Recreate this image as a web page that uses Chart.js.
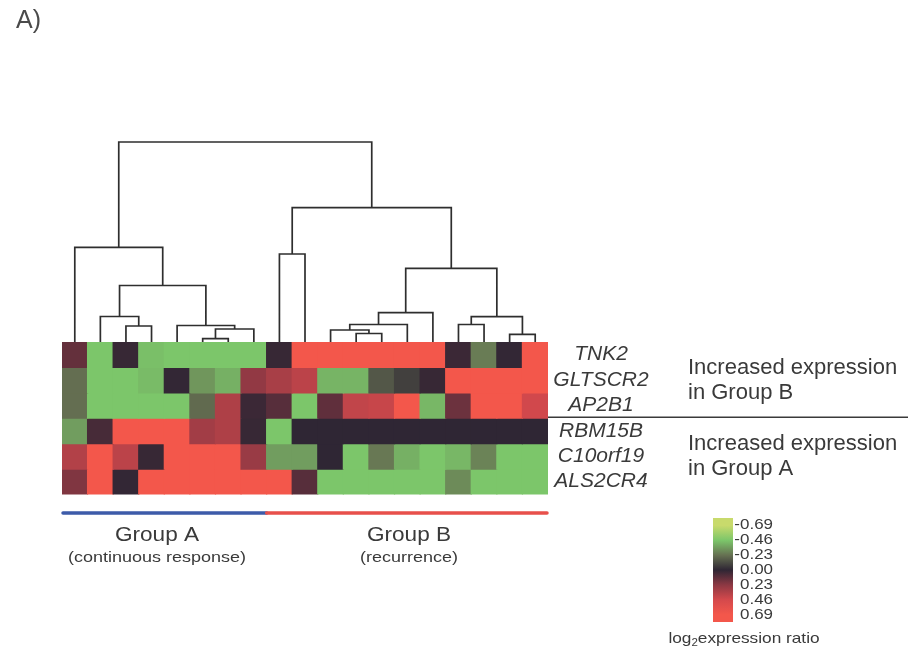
<!DOCTYPE html>
<html>
<head>
<meta charset="utf-8">
<script src="https://cdn.jsdelivr.net/npm/chart.js@4.4.1/dist/chart.umd.min.js"></script>
<style>
  html, body { margin: 0; padding: 0; background: #ffffff; }
  canvas { display: block; }
</style>
</head>
<body>
<canvas id="heat" width="920" height="651"></canvas>
<script>
// ---- data -------------------------------------------------------------
const genes = ['TNK2', 'GLTSCR2', 'AP2B1', 'RBM15B', 'C10orf19', 'ALS2CR4'];
const geneBlockSizes = [3, 3];
const geneBlockNotes = [['Increased expression', 'in Group B'], ['Increased expression', 'in Group A']];
const groupNames = ['Group A', 'Group B'];
const groupNotes = ['(continuous response)', '(recurrence)'];
const groupSizes = [8, 11];

// log2 expression ratio, samples in dendrogram leaf order
const valuesTNK2     = [0.13, -0.46, 0.02, -0.44, -0.46, -0.46, -0.46, -0.46, 0.02, 0.69, 0.69, 0.69, 0.69, 0.69, 0.69, 0.03, -0.26, 0.01, 0.69];
const valuesGLTSCR2  = [-0.22, -0.46, -0.46, -0.43, 0.01, -0.33, -0.40, 0.25, 0.32, 0.38, -0.41, -0.41, -0.15, -0.08, 0.02, 0.69, 0.69, 0.69, 0.69];
const valuesAP2B1    = [-0.22, -0.46, -0.46, -0.46, -0.46, -0.21, 0.34, 0.03, 0.10, -0.46, 0.12, 0.40, 0.42, 0.69, -0.42, 0.15, 0.69, 0.69, 0.45];
const valuesRBM15B   = [-0.35, 0.06, 0.69, 0.69, 0.69, 0.30, 0.34, 0.02, -0.46, 0.00, 0.00, 0.00, 0.00, 0.00, 0.00, 0.00, 0.00, 0.00, 0.00];
const valuesC10orf19 = [0.35, 0.69, 0.38, 0.02, 0.69, 0.69, 0.69, 0.27, -0.35, -0.35, 0.00, -0.46, -0.25, -0.40, -0.46, -0.42, -0.28, -0.46, -0.46];
const valuesALS2CR4  = [0.20, 0.69, 0.01, 0.69, 0.69, 0.69, 0.69, 0.69, 0.69, 0.10, -0.46, -0.46, -0.46, -0.46, -0.46, -0.30, -0.46, -0.46, -0.46];

// colour key ticks
const keyTicks = [-0.69, -0.46, -0.23, 0.00, 0.23, 0.46, 0.69];

// sample clustering: [left, right, height]; leaves 0..18, merge k creates node 19 + k
const merges = [
  [5, 6, 0.033],
  [17, 18, 0.077],
  [11, 12, 0.085],
  [10, 21, 0.12],
  [19, 7, 0.13],
  [2, 3, 0.16],
  [4, 23, 0.165],
  [22, 13, 0.175],
  [15, 16, 0.175],
  [27, 20, 0.253],
  [1, 24, 0.255],
  [26, 14, 0.293],
  [29, 25, 0.565],
  [30, 28, 0.737],
  [8, 9, 0.88],
  [0, 31, 0.947],
  [33, 32, 1.343],
  [34, 35, 2.0]
];

// ---- styling ------------------------------------------------------------
const keyColours = ['#c8da6c', '#7cc66a', '#667152', '#2f2634', '#8c3843', '#d4494c', '#f3574b'];
const FONT = '"Liberation Sans", Arial, Helvetica, sans-serif';
const TEXT = '#3a3a3a';

const matrix = [valuesTNK2, valuesGLTSCR2, valuesAP2B1, valuesRBM15B, valuesC10orf19, valuesALS2CR4];
const nSamples = valuesTNK2.length;

function hexToRgb(h) {
  const n = parseInt(h.slice(1), 16);
  return [(n >> 16) & 255, (n >> 8) & 255, n & 255];
}
const keyRgb = keyColours.map(hexToRgb);
function colourFor(v) {
  if (v <= keyTicks[0]) return keyColours[0];
  if (v >= keyTicks[keyTicks.length - 1]) return keyColours[keyColours.length - 1];
  for (let i = 0; i < keyTicks.length - 1; i++) {
    if (v <= keyTicks[i + 1]) {
      const t = (v - keyTicks[i]) / (keyTicks[i + 1] - keyTicks[i]);
      const a = keyRgb[i], b = keyRgb[i + 1];
      const c = a.map((x, k) => Math.round(x + (b[k] - x) * t));
      return `rgb(${c[0]},${c[1]},${c[2]})`;
    }
  }
}

// heatmap cells as floating bars, one dataset per gene
const heatDatasets = matrix.map((row, r) => ({
  type: 'bar',
  label: genes[r],
  xAxisID: 'x',
  yAxisID: 'yHeat',
  data: row.map((v, i) => ({ x: i + 0.5, y: [r, r + 1] })),
  backgroundColor: row.map(colourFor),
  borderWidth: 0,
  grouped: false,
  barPercentage: 1,
  categoryPercentage: 1,
  inflateAmount: 0.6,
  order: 2
}));

// dendrogram as elbow connectors
const nodeX = [], nodeH = [];
for (let i = 0; i < nSamples; i++) { nodeX.push(i + 0.5); nodeH.push(0); }
const treePoints = [];
merges.forEach(([a, b, h]) => {
  const xa = nodeX[a], xb = nodeX[b];
  treePoints.push({ x: xa, y: nodeH[a] }, { x: xa, y: h }, { x: xb, y: h }, { x: xb, y: nodeH[b] }, { x: xb, y: null });
  nodeX.push((xa + xb) / 2);
  nodeH.push(h);
});
const treeDataset = {
  type: 'line',
  label: 'tree',
  xAxisID: 'x',
  yAxisID: 'yTree',
  data: treePoints,
  borderColor: '#2e2e2e',
  borderWidth: 1.7,
  pointRadius: 0,
  spanGaps: false,
  tension: 0,
  clip: false,
  order: 1
};

function text(ctx, s, x, y, size, o = {}) {
  ctx.save();
  ctx.font = `${o.italic ? 'italic ' : ''}${size}px ${FONT}`;
  ctx.fillStyle = o.color || TEXT;
  ctx.textBaseline = 'middle';
  ctx.textAlign = o.align || 'left';
  ctx.translate(x, y);
  ctx.scale(o.sx || 1, 1);
  ctx.fillText(s, 0, 0);
  ctx.restore();
}

const annotations = {
  id: 'annotations',
  afterDraw(chart) {
    const ctx = chart.ctx;
    const xs = chart.scales.x, yh = chart.scales.yHeat;

    // panel letter
    text(ctx, 'A)', 16, 21, 25, { color: '#4a4a4a' });

    // gene names
    genes.forEach((g, r) => {
      text(ctx, g, 601, yh.getPixelForValue(r + 0.5), 20, { italic: true, align: 'center', sx: 1.05 });
    });

    // gene blocks: separator and notes
    let start = 0;
    geneBlockSizes.forEach((n, b) => {
      const mid = yh.getPixelForValue(start + n / 2);
      text(ctx, geneBlockNotes[b][0], 688, mid - 12.5, 22);
      text(ctx, geneBlockNotes[b][1], 688, mid + 12.5, 22);
      start += n;
      if (b < geneBlockSizes.length - 1) {
        const y = yh.getPixelForValue(start) - 1;
        ctx.save();
        ctx.strokeStyle = '#3a3a3a';
        ctx.lineWidth = 1.4;
        ctx.beginPath();
        ctx.moveTo(xs.getPixelForValue(nSamples), y);
        ctx.lineTo(908, y);
        ctx.stroke();
        ctx.restore();
      }
    });

    // sample groups
    const groupColours = ['#3d5ba9', '#e8504b'];
    const labelX = [157, 409];
    let s0 = 0;
    groupSizes.forEach((n, g) => {
      const x0 = xs.getPixelForValue(s0), x1 = xs.getPixelForValue(s0 + n);
      ctx.save();
      ctx.strokeStyle = groupColours[g];
      ctx.lineWidth = 3.5;
      ctx.lineCap = 'round';
      ctx.beginPath();
      ctx.moveTo(x0 + (g === 0 ? 1 : 0), 513);
      ctx.lineTo(x1 - (g === groupSizes.length - 1 ? 1 : 0), 513);
      ctx.stroke();
      ctx.restore();
      text(ctx, groupNames[g], labelX[g], 535, 20, { align: 'center', sx: 1.13 });
      text(ctx, groupNotes[g], labelX[g], 558, 15, { align: 'center', sx: 1.2 });
      s0 += n;
    });

    // colour key
    const kx = 713, kw = 20, ky = 518, kh = 104;
    const band = kh / keyTicks.length;
    const grad = ctx.createLinearGradient(0, ky, 0, ky + kh);
    keyColours.forEach((c, i) => grad.addColorStop((i + 0.5) / keyColours.length, c));
    grad.addColorStop(0, keyColours[0]);
    grad.addColorStop(1, keyColours[keyColours.length - 1]);
    ctx.fillStyle = grad;
    ctx.fillRect(kx, ky, kw, kh);
    keyTicks.forEach((t, i) => {
      const lab = (t < 0 ? '-' : '') + Math.abs(t).toFixed(2);
      text(ctx, lab, 773, ky + (i + 0.5) * band, 14.5, { align: 'right', sx: 1.17 });
    });

    // key caption: log2expression ratio
    ctx.save();
    const sx = 1.15, cy = 639;
    ctx.font = `15px ${FONT}`;
    const w1 = ctx.measureText('log').width;
    const w3 = ctx.measureText('expression ratio').width;
    ctx.font = `10px ${FONT}`;
    const w2 = ctx.measureText('2').width;
    const total = (w1 + w2 + w3) * sx;
    let x = 744 - total / 2;
    ctx.restore();
    text(ctx, 'log', x, cy, 15, { sx });
    x += w1 * sx;
    text(ctx, '2', x, cy + 4, 10, { sx });
    x += w2 * sx;
    text(ctx, 'expression ratio', x, cy, 15, { sx });
  }
};

new Chart(document.getElementById('heat'), {
  type: 'bar',
  data: { datasets: [...heatDatasets, treeDataset] },
  options: {
    responsive: false,
    animation: false,
    devicePixelRatio: 1,
    layout: { padding: { left: 62, right: 372, top: 142, bottom: 156.5 } },
    plugins: { legend: { display: false }, tooltip: { enabled: false } },
    scales: {
      x: { type: 'linear', min: 0, max: nSamples, offset: false, display: false },
      yTree: { type: 'linear', position: 'right', stack: 'panel', stackWeight: 200, min: 0, max: 2.0, display: false },
      yHeat: { type: 'linear', position: 'right', stack: 'panel', stackWeight: 152.5, min: 0, max: genes.length, reverse: true, display: false }
    }
  },
  plugins: [annotations]
});
</script>
</body>
</html>
